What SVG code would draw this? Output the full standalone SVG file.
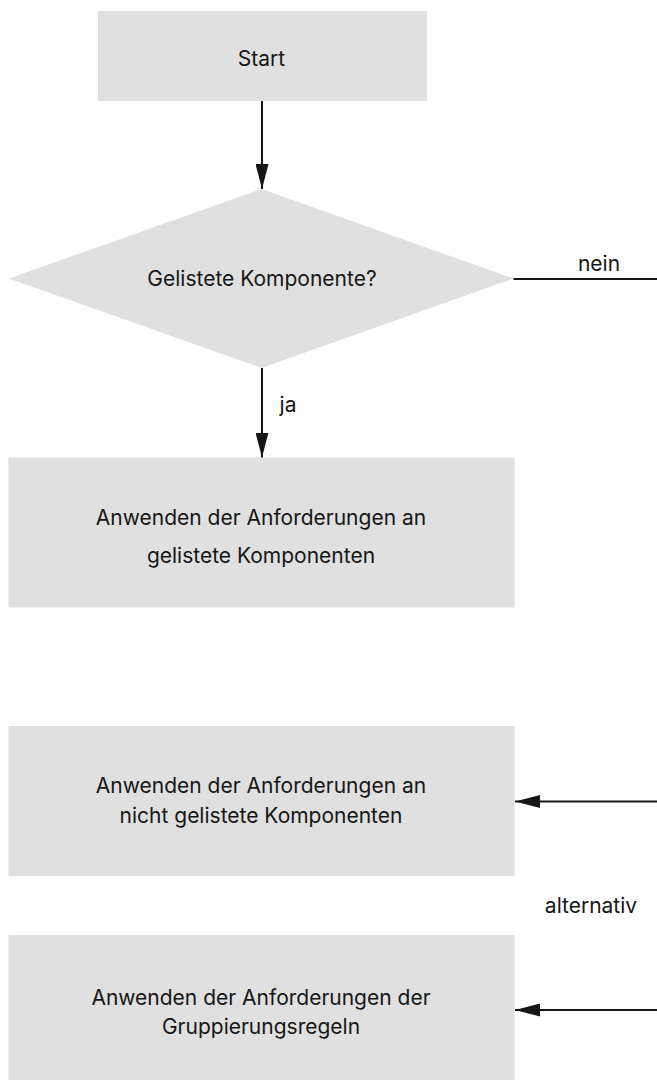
<svg xmlns="http://www.w3.org/2000/svg" width="657" height="1080" viewBox="0 0 657 1080">
  <style>
    .box { fill: #e0e0e0; stroke: none; }
    .lbl { font-family: Inter, "Noto Sans", "Liberation Sans", sans-serif; font-size: 21px; fill: #161616; text-anchor: middle; }
    .edge { stroke: #161616; stroke-width: 2; fill: none; }
  </style>
  <defs>
    <marker id="arrow" markerUnits="userSpaceOnUse" markerWidth="25" markerHeight="13" refX="25" refY="6.5" orient="auto">
      <path d="M0,0 L25,6.5 L0,13 Z" fill="#161616"/>
    </marker>
  </defs>
  <rect width="657" height="1080" fill="#ffffff"/>

  <g id="start">
    <rect class="box" x="98" y="11" width="329" height="90"/>
    <text class="lbl" x="261.5" y="66">Start</text>
  </g>

  <g id="decision">
    <polygon class="box" points="261.5,189 513.5,278.5 261.5,368 9,278.5"/>
    <text class="lbl" x="262" y="286">Gelistete Komponente?</text>
  </g>

  <g id="listed">
    <rect class="box" x="8.5" y="457.5" width="506" height="150"/>
    <text class="lbl" x="261" y="525">Anwenden der Anforderungen an</text>
    <text class="lbl" x="261" y="563">gelistete Komponenten</text>
  </g>

  <g id="unlisted">
    <rect class="box" x="8.5" y="726" width="506" height="150"/>
    <text class="lbl" x="261" y="793">Anwenden der Anforderungen an</text>
    <text class="lbl" x="261" y="823">nicht gelistete Komponenten</text>
  </g>

  <g id="grouping">
    <rect class="box" x="8.5" y="935" width="506" height="150"/>
    <text class="lbl" x="261" y="1005">Anwenden der Anforderungen der</text>
    <text class="lbl" x="261" y="1034">Gruppierungsregeln</text>
  </g>

  <g id="connectors">
    <line class="edge" x1="262" y1="101" x2="262" y2="189" marker-end="url(#arrow)"/>
    <line class="edge" x1="262" y1="368" x2="262" y2="457.5" marker-end="url(#arrow)"/>
    <text class="lbl" x="288" y="412">ja</text>
    <line class="edge" x1="513.5" y1="279" x2="657" y2="279"/>
    <text class="lbl" x="599" y="271">nein</text>
    <line class="edge" x1="657" y1="801.5" x2="515" y2="801.5" marker-end="url(#arrow)"/>
    <text class="lbl" x="591" y="913">alternativ</text>
    <line class="edge" x1="657" y1="1010" x2="515" y2="1010" marker-end="url(#arrow)"/>
  </g>
</svg>
